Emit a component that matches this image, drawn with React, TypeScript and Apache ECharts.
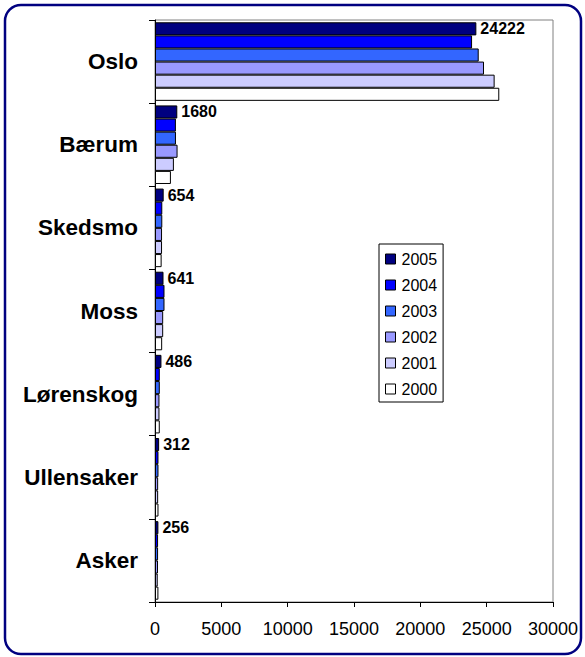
import React, { useEffect, useRef } from "react";
import * as echarts from "echarts";

const categories = ["Oslo", "Bærum", "Skedsmo", "Moss", "Lørenskog", "Ullensaker", "Asker"];
const years = ["2005", "2004", "2003", "2002", "2001", "2000"];
const v2005 = [24222, 1680, 654, 641, 486, 312, 256];
const v2004 = [23900, 1575, 550, 716, 361, 262, 231];
const v2003 = [24400, 1580, 550, 716, 361, 262, 231];
const v2002 = [24800, 1700, 530, 616, 336, 237, 225];
const v2001 = [25600, 1425, 530, 616, 336, 237, 206];
const v2000 = [25950, 1200, 500, 540, 360, 262, 256];
const xTicks = [0, 5000, 10000, 15000, 20000, 25000, 30000];

const seriesValues = [v2005, v2004, v2003, v2002, v2001, v2000];
const colors = ["#000080", "#0000FF", "#3366FF", "#9999FF", "#CCCCFF", "#FFFFFF"];

const FONT = "'Liberation Sans', Arial, Helvetica, sans-serif";

export default function App() {
  const ref = useRef<HTMLDivElement>(null);
  useEffect(() => {
    if (!ref.current) return;
    const chart = echarts.init(ref.current, undefined, { renderer: "svg" });
    chart.setOption({
      animation: false,
      backgroundColor: "#ffffff",
      textStyle: { fontFamily: FONT },
      graphic: [
        {
          type: "rect",
          shape: { x: 5, y: 5, width: 576, height: 649, r: 16 },
          style: { fill: "none", stroke: "#000080", lineWidth: 2.5 },
          z: 100,
          silent: true,
        },
      ],
      grid: {
        left: 155,
        right: 32,
        top: 20,
        bottom: 55,
        show: true,
        borderColor: "#808080",
        borderWidth: 1,
      },
      legend: {
        orient: "vertical",
        left: 379,
        top: 244,
        data: years,
        icon: "rect",
        padding: [7, 6, 5, 6],
        itemGap: 10,
        itemWidth: 10,
        itemHeight: 10,
        borderColor: "#000000",
        borderWidth: 1,
        backgroundColor: "#ffffff",
        itemStyle: { borderColor: "#000000", borderWidth: 1 },
        textStyle: { fontSize: 16, color: "#000", fontFamily: FONT, lineHeight: 16, padding: [0, 0, 0, 1] },
        selectedMode: false,
      },
      xAxis: {
        type: "value",
        min: xTicks[0],
        max: xTicks[xTicks.length - 1],
        interval: xTicks[1] - xTicks[0],
        axisLine: { show: true, lineStyle: { color: "#000", width: 1 } },
        axisTick: { show: true, length: 5, lineStyle: { color: "#000" } },
        splitLine: { show: false },
        axisLabel: {
          color: "#000",
          fontSize: 18,
          margin: 18,
          fontFamily: FONT,
          formatter: (v: number) => String(v),
        },
      },
      yAxis: {
        type: "category",
        data: categories,
        inverse: true,
        axisLine: { show: true, lineStyle: { color: "#000", width: 1 } },
        axisTick: { show: true, length: 6, lineStyle: { color: "#000" } },
        axisLabel: { color: "#000", fontSize: 22.5, fontWeight: "bold", margin: 17, fontFamily: FONT },
      },
      series: years.map((y, i) => ({
        name: y,
        type: "bar",
        data: seriesValues[i],
        barGap: "0%",
        barCategoryGap: "5.5%",
        itemStyle: { color: colors[i], borderColor: "#000000", borderWidth: 1 },
        label:
          i === 0
            ? {
                show: true,
                position: "right",
                distance: 4,
                color: "#000",
                fontSize: 16,
                fontWeight: "bold",
                fontFamily: FONT,
              }
            : { show: false },
      })),
    });
    return () => chart.dispose();
  }, []);
  return (
    <div
      ref={ref}
      style={{ position: "absolute", left: 0, top: 0, width: 585, height: 657, background: "#fff" }}
    />
  );
}
